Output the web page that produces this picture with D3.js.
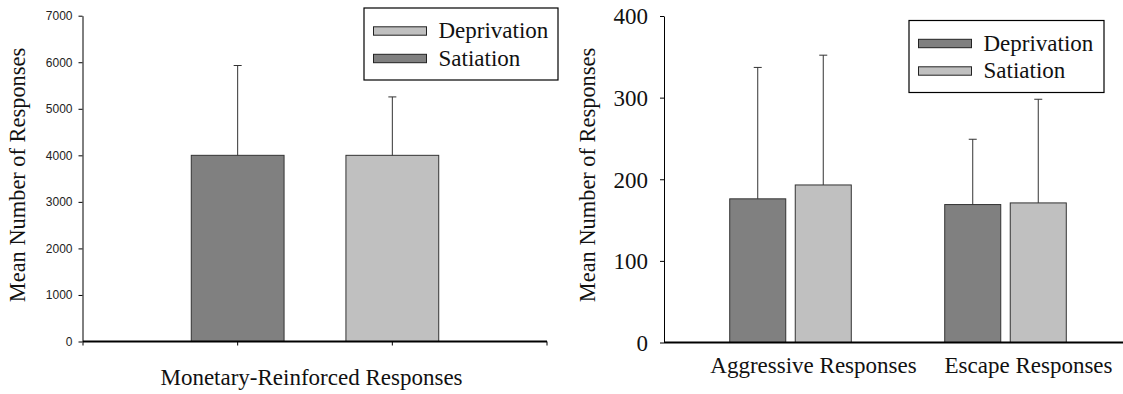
<!DOCTYPE html>
<html>
<head>
<meta charset="utf-8">
<script src="https://cdn.jsdelivr.net/npm/d3@7"></script>
<style>
  body { margin: 0; background: #fff; }
  svg { display: block; }
</style>
</head>
<body>
<script>
// DATA - left panel (one category, two bars)
const monetaryCategory = "Monetary-Reinforced Responses";
const monetarySeries = ["Satiation", "Deprivation"];   // order of the bars
const monetaryMeans = [4000, 4000];
const monetarySD = [1930, 1255];
const monetaryLegend = ["Deprivation", "Satiation"];
const monetaryTicks = [0, 1000, 2000, 3000, 4000, 5000, 6000, 7000];

// DATA - right panel
const behaviourCats = ["Aggressive Responses", "Escape Responses"];
const behaviourSeries = ["Deprivation", "Satiation"];
const deprivationMeans = [176, 169];
const deprivationSD = [161, 80];
const satiationMeans = [193, 171];
const satiationSD = [159, 127];
const behaviourTicks = [0, 100, 200, 300, 400];

const yLabel = "Mean Number of Responses";
const DARK = "#808080", LIGHT = "#c0c0c0";
const serif = "'Liberation Serif', 'Times New Roman', serif";
const sans = "'Liberation Sans', Arial, sans-serif";

const svg = d3.select("body").append("svg")
  .attr("width", 1123)
  .attr("height", 394);

// ERROR BAR HELPER
function errorBar(g, cx, yTop, yEnd) {
  g.append("line")
    .attr("x1", cx).attr("x2", cx)
    .attr("y1", yTop).attr("y2", yEnd)
    .attr("stroke", "#333").attr("stroke-width", 1);
  g.append("line")
    .attr("x1", cx - 4).attr("x2", cx + 4)
    .attr("y1", yEnd).attr("y2", yEnd)
    .attr("stroke", "#333").attr("stroke-width", 1);
}

// LEGEND HELPER
function legend(g, x0, y0, w, h, names, color) {
  g.append("rect")
    .attr("x", x0).attr("y", y0).attr("width", w).attr("height", h)
    .attr("fill", "#fff").attr("stroke", "#000").attr("stroke-width", 1.2);
  names.forEach(function(n, i) {
    const cy = y0 + 23 + i * 27.5;
    g.append("rect")
      .attr("x", x0 + 9.5).attr("y", cy - 4.2)
      .attr("width", 53).attr("height", 8.4)
      .attr("fill", color(n)).attr("stroke", "#222").attr("stroke-width", 1);
    g.append("text")
      .attr("x", x0 + 74.5).attr("y", cy + 7)
      .style("font-family", serif).style("font-size", "23px")
      .attr("fill", "#111")
      .text(n);
  });
}

// ---------------- LEFT PANEL ----------------
const left = svg.append("g");
const yL = d3.scaleLinear().domain([0, 7000]).range([341.5, 15.7]);
const xL = d3.scaleBand().domain(monetarySeries).range([83, 547])
  .paddingInner(0.4).paddingOuter(0.7);
const colorL = d3.scaleOrdinal().domain(["Deprivation", "Satiation"]).range([LIGHT, DARK]);

// Y AXIS
const yAxisL = left.append("g")
  .attr("transform", "translate(82.5,0)")
  .call(d3.axisLeft(yL).tickValues(monetaryTicks).tickFormat(d3.format("d"))
    .tickSize(4).tickSizeOuter(0).tickPadding(6));
yAxisL.selectAll("text")
  .style("font-family", sans).style("font-size", "12px").attr("fill", "#222");
yAxisL.select(".domain").attr("stroke", "#000");

// BARS
monetarySeries.forEach(function(s, i) {
  left.append("rect")
    .attr("x", xL(s)).attr("y", yL(monetaryMeans[i]))
    .attr("width", xL.bandwidth()).attr("height", yL(0) - yL(monetaryMeans[i]))
    .attr("fill", colorL(s)).attr("stroke", "#333").attr("stroke-width", 1);
  errorBar(left, xL(s) + xL.bandwidth() / 2, yL(monetaryMeans[i]), yL(monetaryMeans[i] + monetarySD[i]));
});

// X AXIS with ticks at ends and bar centres
const tickXs = [xL.range()[0]].concat(monetarySeries.map(s => xL(s) + xL.bandwidth() / 2), [xL.range()[1]]);
tickXs.forEach(function(tx) {
  left.append("line").attr("x1", tx).attr("x2", tx)
    .attr("y1", yL(0)).attr("y2", yL(0) + 4)
    .attr("stroke", "#000").attr("stroke-width", 1);
});
left.append("line")
  .attr("x1", xL.range()[0]).attr("x2", xL.range()[1])
  .attr("y1", yL(0)).attr("y2", yL(0))
  .attr("stroke", "#000").attr("stroke-width", 2);

left.append("text")
  .attr("x", 311.5).attr("y", 385)
  .attr("text-anchor", "middle")
  .style("font-family", serif).style("font-size", "23px").attr("fill", "#111")
  .text(monetaryCategory);

left.append("text")
  .attr("transform", "translate(25,175) rotate(-90)")
  .attr("text-anchor", "middle")
  .style("font-family", serif).style("font-size", "22.4px").attr("fill", "#111")
  .text(yLabel);

legend(left, 364, 8, 194, 72, monetaryLegend, colorL);

// ---------------- RIGHT PANEL ----------------
const right = svg.append("g");
const yR = d3.scaleLinear().domain([0, 400]).range([342.5, 16]);
const x0R = d3.scaleBand().domain(behaviourCats).range([683, 1113]);
const x1R = d3.scaleBand().domain(behaviourSeries).range([0, x0R.bandwidth()])
  .paddingInner(0.145).paddingOuter(0.713);
const colorR = d3.scaleOrdinal().domain(behaviourSeries).range([DARK, LIGHT]);
const rightMeans = { Deprivation: deprivationMeans, Satiation: satiationMeans };
const rightSD = { Deprivation: deprivationSD, Satiation: satiationSD };

const yAxisR = right.append("g")
  .attr("transform", "translate(664,0)")
  .call(d3.axisLeft(yR).tickValues(behaviourTicks).tickSize(4).tickSizeOuter(0).tickPadding(12));
yAxisR.selectAll("text")
  .style("font-family", serif).style("font-size", "23px").attr("fill", "#111")
  .attr("dy", "0.34em");
yAxisR.select(".domain").attr("stroke", "#000");

behaviourCats.forEach(function(c, ci) {
  behaviourSeries.forEach(function(s) {
    const v = rightMeans[s][ci];
    const bx = x0R(c) + x1R(s);
    right.append("rect")
      .attr("x", bx).attr("y", yR(v))
      .attr("width", x1R.bandwidth()).attr("height", yR(0) - yR(v))
      .attr("fill", colorR(s)).attr("stroke", "#333").attr("stroke-width", 1);
    errorBar(right, bx + x1R.bandwidth() / 2, yR(v), yR(v + rightSD[s][ci]));
  });
  right.append("text")
    .attr("x", x0R(c) + x0R.bandwidth() / 2 + 23).attr("y", 373)
    .attr("text-anchor", "middle")
    .style("font-family", serif).style("font-size", "23px").attr("fill", "#111")
    .text(c);
});

right.append("line")
  .attr("x1", 664).attr("x2", 1123)
  .attr("y1", yR(0)).attr("y2", yR(0))
  .attr("stroke", "#000").attr("stroke-width", 2);

right.append("text")
  .attr("transform", "translate(595,175) rotate(-90)")
  .attr("text-anchor", "middle")
  .style("font-family", serif).style("font-size", "22.4px").attr("fill", "#111")
  .text(yLabel);

legend(right, 909, 20.5, 195, 72, behaviourSeries, colorR);
</script>
</body>
</html>
